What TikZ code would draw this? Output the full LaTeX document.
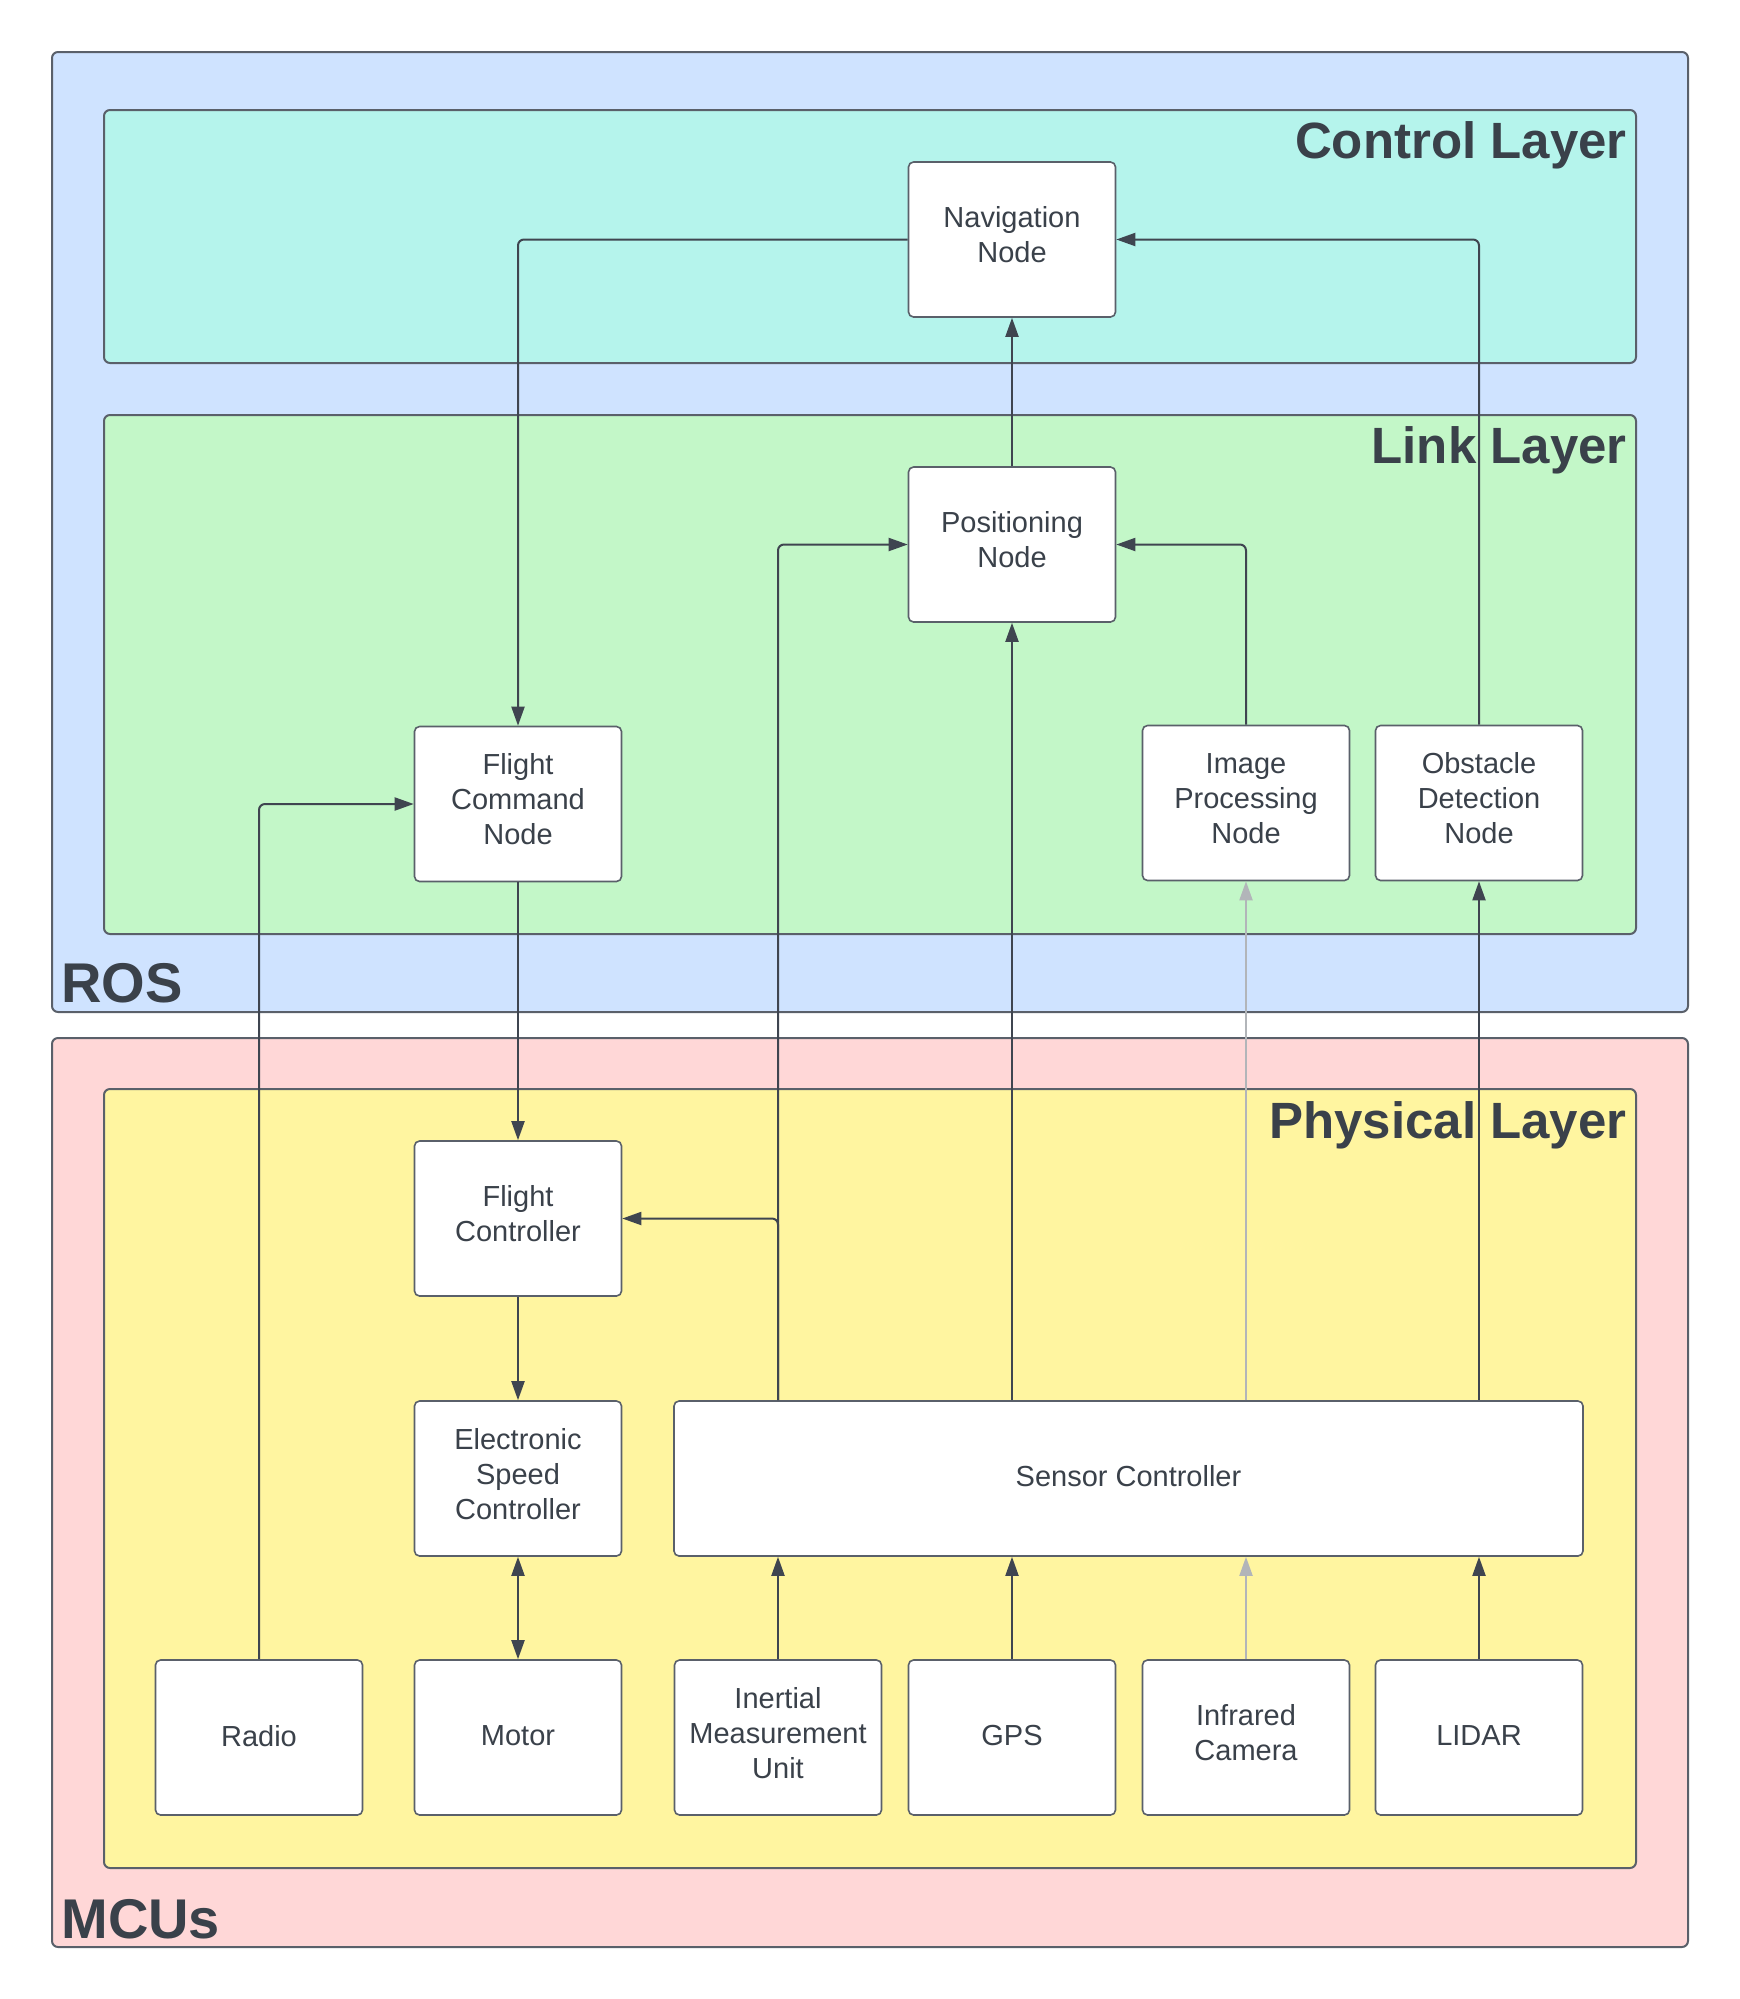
\documentclass[tikz,border=0pt]{standalone}
\usepackage{fontspec}
\setmainfont{Liberation Sans}
\usepackage{tikz}
\usetikzlibrary{arrows.meta}

\definecolor{inkgray}{HTML}{3A414A}
\definecolor{edgegray}{HTML}{5A606A}
\definecolor{linegray}{HTML}{3F4550}
\definecolor{rosblue}{HTML}{CFE3FF}
\definecolor{mcupink}{HTML}{FFD7D7}
\definecolor{ctrlteal}{HTML}{B5F4EC}
\definecolor{linkgreen}{HTML}{C3F7C8}
\definecolor{physyellow}{HTML}{FFF5A0}

\begin{document}
\begin{tikzpicture}[x=0.5pt, y=-0.5pt,
  every node/.style={font=\fontsize{14.5}{17.5}\selectfont, text=inkgray},
  box/.style={draw=edgegray, line width=0.8pt, fill=white, rounded corners=2.5pt,
    minimum width=103.5pt, minimum height=77.5pt, align=center, inner sep=0pt,
    execute at end node={\rule[-#1]{0pt}{0pt}}},
  box/.default=2pt,
  layer/.style={draw=edgegray, line width=1pt, rounded corners=3pt},
  title/.style={font=\fontsize{25.5}{30}\selectfont\bfseries, inner sep=0pt},
  bigtitle/.style={font=\fontsize{28}{32}\selectfont\bfseries, inner sep=0pt, anchor=base west},
  link/.style={draw=linegray, line width=1pt, rounded corners=3pt,
    -{Triangle[length=9.5pt,width=6.5pt]}},
  faint/.style={draw=linegray!40}]
  \useasboundingbox (0,0) rectangle (1740,1999);

  % Containers
  \draw[layer, fill=rosblue] (52,52) rectangle (1688,1012);
  \draw[layer, fill=mcupink] (52,1038) rectangle (1688,1947);
  \draw[layer, fill=ctrlteal] (104,110) rectangle (1636,363);
  \draw[layer, fill=linkgreen] (104,415) rectangle (1636,934);
  \draw[layer, fill=physyellow] (104,1089) rectangle (1636,1868);

  % Titles
  \node[title, anchor=base east] (ctrltitle) at (1627,158) {Control Layer};
  \node[title, anchor=base east] (linktitle) at (1627,463) {Link Layer};
  \node[title, anchor=base east] (phystitle) at (1627,1138) {Physical Layer};
  \node[bigtitle] (rostitle) at (61,1002) {ROS};
  \node[bigtitle] (mcutitle) at (61,1938) {MCUs};

  % ROS nodes
  \node[box=4.6pt] (nav) at (1012,239.5) {Navigation\\Node};
  \node[box=4.6pt] (pos) at (1012,544.5) {Positioning\\Node};
  \node[box=4.6pt] (fcmd) at (518,804) {Flight\\Command\\Node};
  \node[box=4.6pt] (imgproc) at (1246,803) {Image\\Processing\\Node};
  \node[box=4.6pt] (obst) at (1479,803) {Obstacle\\Detection\\Node};

  % MCU nodes
  \node[box=4.6pt] (fctrl) at (518,1218.5) {Flight\\Controller};
  \node[box=4.6pt] (esc) at (518,1478.5) {Electronic\\Speed\\Controller};
  \node[box=3pt, minimum width=454.5pt] (sensor) at (1128.5,1478.5) {Sensor Controller};
  \foreach \n/\x/\d/\t in {radio/259/2pt/Radio, motor/518/2pt/Motor,
      imu/778/4.6pt/{Inertial\\Measurement\\Unit}, gps/1012/2pt/GPS,
      ircam/1246/4.6pt/{Infrared\\Camera}, lidar/1479/2pt/LIDAR}{
    \node[box=\d] (\n) at (\x,1737.5) {\t};
  }

  % Connectors
  \draw[link] (nav.west) -| (fcmd.north);
  \draw[link] (pos) -- (nav);
  \draw[link] (obst.north) |- (nav.east);
  \draw[link] (imgproc.north) |- (pos.east);
  \draw[link] (imu |- sensor.north) |- (pos.west);
  \draw[link] (imu |- sensor.north) |- (fctrl.east);
  \draw[link] (pos |- sensor.north) -- (pos.south);
  \draw[link, faint] (imgproc |- sensor.north) -- (imgproc.south);
  \draw[link] (obst |- sensor.north) -- (obst.south);
  \draw[link] (radio.north) |- (fcmd.west);
  \draw[link] (fcmd) -- (fctrl);
  \draw[link] (fctrl) -- (esc);
  \draw[link, {Triangle[length=9.5pt,width=6.5pt]}-{Triangle[length=9.5pt,width=6.5pt]}] (esc) -- (motor);
  \foreach \n in {imu, gps, lidar}
    \draw[link] (\n.north) -- (\n.north |- sensor.south);
  \draw[link, faint] (ircam.north) -- (ircam.north |- sensor.south);
\end{tikzpicture}
\end{document}
